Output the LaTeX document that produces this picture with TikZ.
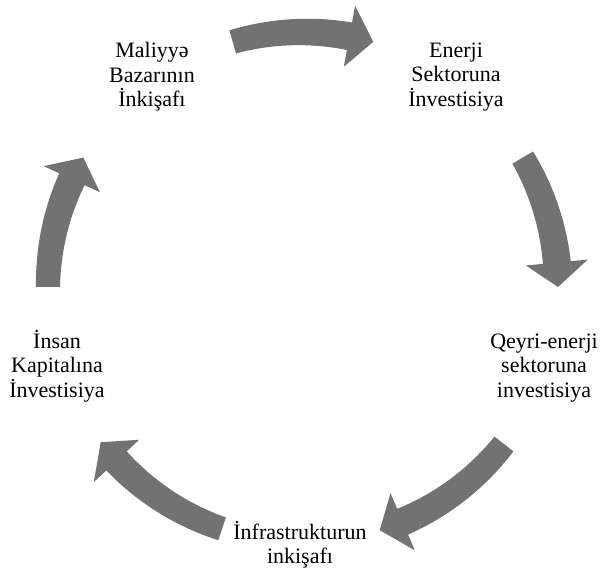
\documentclass[tikz,border=0pt]{standalone}
\usepackage{fontspec}
\setmainfont{Liberation Serif}
\definecolor{arrowgray}{RGB}{114,114,114}
\tikzset{
  lbl/.style={align=center, inner sep=0pt, font=\fontsize{22}{24.5}\selectfont},
  arrowfill/.style={fill=arrowgray, draw=none}
}
\newcommand{\cx}{303}
\newcommand{\cy}{282}
\newcommand{\Rr}{255}
\newcommand{\cycarrow}[2]{%
  \pgfmathsetmacro{\ha}{(#2)+5.5}%
  \fill[arrowfill]
    plot[domain=#1:\ha, samples=40] ({\cx+(\Rr+12+2*((#1)-\x)/((#1)-(\ha)))*cos(\x)},{\cy+(\Rr+12+2*((#1)-\x)/((#1)-(\ha)))*sin(\x)})
    -- ({\cx+(\Rr+31)*cos(\ha)},{\cy+(\Rr+31)*sin(\ha)})
    -- ({\cx+\Rr*cos(#2)},{\cy+\Rr*sin(#2)})
    -- ({\cx+(\Rr-31)*cos(\ha)},{\cy+(\Rr-31)*sin(\ha)})
    -- plot[domain=\ha:#1, samples=40] ({\cx+(\Rr-12-2*((#1)-\x)/((#1)-(\ha)))*cos(\x)},{\cy+(\Rr-12-2*((#1)-\x)/((#1)-(\ha)))*sin(\x)})
    -- cycle;}
\begin{document}
\begin{tikzpicture}[x=1pt,y=1pt]
\useasboundingbox (0,0) rectangle (604,569);
% arrows
\cycarrow{106}{74}
\cycarrow{30.5}{0}
\cycarrow{-38}{-72.5}
\cycarrow{-108.5}{-142.5}
\cycarrow{180}{149.5}
% labels
\node[lbl] (fin) at (152,492) {Maliyyə\\Bazarının\\İnkişafı};
\node[lbl] (ene) at (456,492) {Enerji\\Sektoruna\\İnvestisiya};
\node[lbl] (qey) at (544,201) {Qeyri-enerji\\sektoruna\\investisiya};
\node[lbl] (inf) at (300,24) {İnfrastrukturun\\inkişafı};
\node[lbl] (ins) at (57,203) {İnsan\\Kapitalına\\İnvestisiya};
\end{tikzpicture}
\end{document}
